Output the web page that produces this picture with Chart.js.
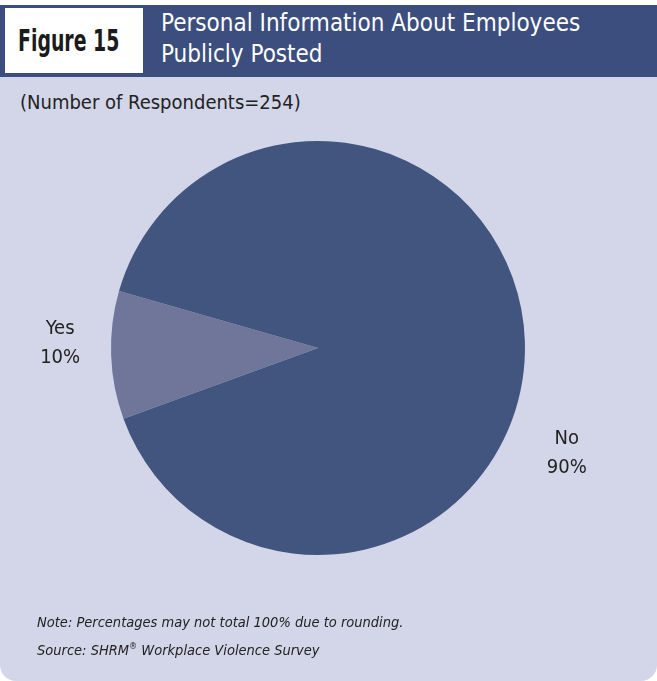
<!DOCTYPE html>
<html>
<head>
<meta charset="utf-8">
<script src="https://cdn.jsdelivr.net/npm/chart.js@4.4.1/dist/chart.umd.min.js"></script>
<style>
  html, body {
    margin: 0;
    padding: 0;
    background: #ffffff;
  }
  body {
    width: 657px;
    height: 681px;
    position: relative;
    overflow: hidden;
    font-family: "DejaVu Sans Condensed", "Liberation Sans", sans-serif;
  }
  .panel {
    position: absolute;
    left: 0;
    top: 77px;
    width: 657px;
    height: 604px;
    background: #d3d6e8;
    border-radius: 0 0 16px 16px;
  }
  .header {
    position: absolute;
    left: 0;
    top: 5px;
    width: 657px;
    height: 72px;
    background: #3c4e7e;
  }
  .fig-box {
    position: absolute;
    left: 5px;
    top: 3px;
    width: 138px;
    height: 65px;
    background: #ffffff;
  }
  .fig-box span {
    position: absolute;
    left: 13px;
    top: 0;
    color: #1b1b1b;
    font-weight: bold;
    font-size: 30px;
    line-height: 65px;
    white-space: nowrap;
    transform: scaleX(0.7);
    transform-origin: left center;
  }
  .title {
    position: absolute;
    left: 161px;
    top: 3px;
    color: #ffffff;
    font-size: 24px;
    line-height: 31px;
  }
  .subtitle {
    position: absolute;
    left: 20px;
    top: 90px;
    font-size: 20px;
    color: #222222;
  }
  .note {
    position: absolute;
    left: 37px;
    top: 610px;
    font-size: 14.5px;
    font-style: italic;
    line-height: 24px;
    color: #222222;
  }
  #pie {
    position: absolute;
    left: 0;
    top: 77px;
  }
</style>
</head>
<body>
<div class="panel"></div>
<div class="header">
  <div class="fig-box"><span>Figure 15</span></div>
  <div class="title">Personal Information About Employees<br>Publicly Posted</div>
</div>
<div class="subtitle">(Number of Respondents=254)</div>
<canvas id="pie" width="636" height="542"></canvas>
<div class="note">Note: Percentages may not total 100% due to rounding.<br>Source: SHRM<sup style="font-size:9px">®</sup> Workplace Violence Survey</div>

<script>
const labels = ["Yes", "No"];
const shares = [10, 90];
const sliceColors = ["#6f7699", "#41557f"];

const FONT = '"DejaVu Sans Condensed", "Liberation Sans", sans-serif';

// writes "Yes / 10%" style labels outside each slice
const outsideLabels = {
  id: "outsideLabels",
  afterDatasetsDraw(chart, args, opts) {
    const ctx = chart.ctx;
    const meta = chart.getDatasetMeta(0);
    ctx.save();
    ctx.fillStyle = "#222222";
    ctx.font = "20px " + FONT;
    ctx.textAlign = "center";
    ctx.textBaseline = "middle";
    meta.data.forEach((arc, i) => {
      const mid = (arc.startAngle + arc.endAngle) / 2;
      const r = arc.outerRadius + opts.gap;
      const off = opts.offsets[i];
      const x = arc.x + Math.cos(mid) * r + off[0];
      const y = arc.y + Math.sin(mid) * r + off[1];
      const value = chart.data.datasets[0].data[i];
      ctx.fillText(chart.data.labels[i], x, y - 15);
      ctx.fillText(value + "%", x, y + 14);
    });
    ctx.restore();
  }
};

new Chart(document.getElementById("pie"), {
  type: "pie",
  data: {
    labels: labels,
    datasets: [{
      data: shares,
      backgroundColor: sliceColors,
      borderWidth: 0
    }]
  },
  options: {
    responsive: false,
    devicePixelRatio: 1,
    animation: false,
    rotation: 250,
    layout: { padding: 64 },
    plugins: {
      legend: { display: false },
      tooltip: { enabled: false },
      outsideLabels: {
        gap: 51,
        offsets: [[0, -13], [-9, 115]]
      }
    }
  },
  plugins: [outsideLabels]
});
</script>
</body>
</html>
